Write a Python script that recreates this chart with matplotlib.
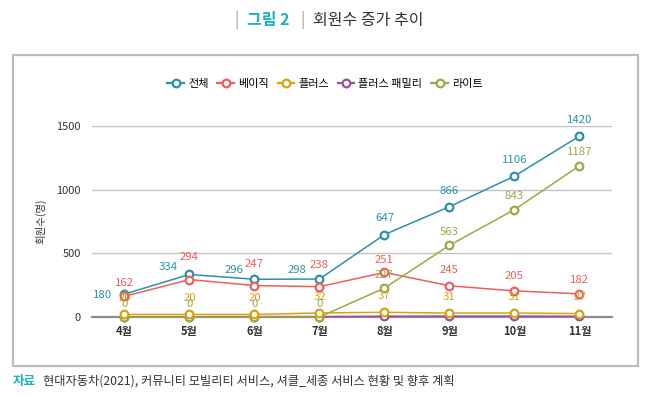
import matplotlib
matplotlib.use("Agg")
import matplotlib.pyplot as plt
from matplotlib.patches import Rectangle
from matplotlib.lines import Line2D

plt.rcParams['font.family'] = ['Noto Sans CJK KR', 'DejaVu Sans']

# data (the 8월 베이직 point sits higher in the source than its 251 label)
months = ['4월', '5월', '6월', '7월', '8월', '9월', '10월', '11월']
total = [180, 334, 296, 298, 647, 866, 1106, 1420]
basic = [162, 294, 247, 238, 350, 245, 205, 182]
basic_labels = ['162', '294', '247', '238', '251', '245', '205', '182']
plus = [20, 20, 20, 32, 37, 31, 31, 27]
plus_family = [2, 2, 3, 3, 6, 7, 7, 6]
lite = [0, 0, 0, 0, 227, 563, 843, 1187]
yticks = [0, 500, 1000, 1500]

c_total = '#2b93a6'
c_basic = '#ec5f5c'
c_plus = '#dba210'
c_family = '#9c4f9b'
c_lite = '#9aab44'

fig = plt.figure(figsize=(6.5, 3.96), dpi=100)
ax = fig.add_axes([0.1415, 0.1995, 0.80, 0.4825])

# outer box
fig.patches.append(Rectangle((13 / 650, 1 - 366 / 396), 625 / 650, 311 / 396,
                             transform=fig.transFigure, fill=False,
                             edgecolor='#bdbdbd', linewidth=1.6))

x = list(range(len(months)))
series = [
    ('플러스 패밀리', plus_family, c_family),
    ('전체', total, c_total),
    ('베이직', basic, c_basic),
    ('라이트', lite, c_lite),
    ('플러스', plus, c_plus),
]
for name, vals, col in series:
    ax.plot(x, vals, color=col, lw=1.1, marker='o', ms=5.5, mfc='white',
            mec=col, mew=1.6, zorder=3, clip_on=False)

# value labels (offsets in points)
total_off = [(-16, -4), (-15, 2), (-15, 3), (-16, 3), (0, 8), (0, 8), (0, 8), (0, 8)]
basic_off = [6, 12.5, 12, 12, 5.5, 7.5, 7, 6]
for i, v in enumerate(total):
    ax.annotate(str(v), (i, v), xytext=total_off[i], textcoords='offset points',
                ha='center', va='bottom', fontsize=8.2, color=c_total)
for i, v in enumerate(basic):
    ax.annotate(basic_labels[i], (i, v), xytext=(0, basic_off[i]),
                textcoords='offset points', ha='center', va='bottom',
                fontsize=8.2, color=c_basic)
for i, v in enumerate(plus):
    ax.annotate(str(v), (i, v), xytext=(0, 8), textcoords='offset points',
                ha='center', va='bottom', fontsize=8.2, color=c_plus)
for i, v in enumerate(lite):
    ax.annotate(str(v), (i, v), xytext=(0, 6), textcoords='offset points',
                ha='center', va='bottom', fontsize=8.2, color=c_lite)

ax.set_xlim(-0.5, len(months) - 0.5)
ax.set_ylim(0, 1500)
ax.set_yticks(yticks)
ax.set_xticks(x)
ax.set_xticklabels(months, fontweight='bold')
ax.tick_params(axis='both', length=0, labelsize=8, colors='#333333')
ax.tick_params(axis='y', pad=8)
ax.tick_params(axis='x', pad=6)
ax.grid(axis='y', color='#c4c4c4', lw=1.0)
ax.set_axisbelow(True)
for s in ['top', 'right', 'left']:
    ax.spines[s].set_visible(False)
ax.spines['bottom'].set_color('#8c8c8c')
ax.spines['bottom'].set_linewidth(1.6)
ax.set_ylabel('회원수(명)', fontsize=7.5, color='#333333', labelpad=7)

# legend
handles = []
labels = []
for name, col in [('전체', c_total), ('베이직', c_basic), ('플러스', c_plus),
                  ('플러스 패밀리', c_family), ('라이트', c_lite)]:
    handles.append(Line2D([], [], color=col, lw=1.6, marker='o', ms=5.5,
                          mfc='white', mec=col, mew=1.6))
    labels.append(name)
fig.legend(handles, labels, loc='center', bbox_to_anchor=(0.5, 1 - 84 / 396),
           ncol=5, frameon=False, fontsize=8, handlelength=1.5,
           handletextpad=0.35, columnspacing=0.8)

# title
ty = 1 - 20 / 396
fig.text(237 / 650, ty, '|', ha='center', va='center', fontsize=11, color='#9a9a9a')
fig.text(247 / 650, ty, '그림 2', ha='left', va='center', fontsize=11.5,
         color='#1cb3b6', fontweight='bold')
fig.text(303 / 650, ty, '|', ha='center', va='center', fontsize=11, color='#9a9a9a')
fig.text(313 / 650, ty, '회원수 증가 추이', ha='left', va='center', fontsize=11.5,
         color='#333333')

# source
sy = 1 - 381 / 396
fig.text(13 / 650, sy, '자료', ha='left', va='center', fontsize=9,
         color='#1cb3b6', fontweight='bold')
fig.text(43 / 650, sy, '현대자동차(2021), 커뮤니티 모빌리티 서비스, 셔클_세종 서비스 현황 및 향후 계획',
         ha='left', va='center', fontsize=8.8, color='#333333')

fig.savefig('out.png', dpi=100, facecolor='white')
